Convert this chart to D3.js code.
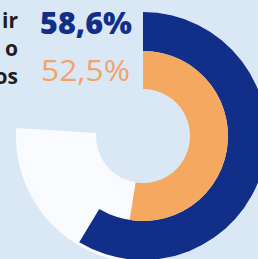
<!DOCTYPE html>
<html><head><meta charset="utf-8">
<script src="https://cdn.jsdelivr.net/npm/d3@7"></script>
<style>html,body{margin:0;padding:0;background:#dae8f6;overflow:hidden}</style>
</head><body>
<svg id="c" width="258" height="259"></svg>
<script>
const seriesNames = ["outer", "inner"];
const seriesValues = [58.6, 52.5];
const valueLabels = ["58,6%", "52,5%"];
const seriesColors = ["#112f88", "#f5a860"];
const sideText = ["ir", "o", "os"];
const trackEnd = 76;

const svg = d3.select("#c");
const cx = 143, cy = 136;
const angle = d3.scaleLinear().domain([0, 100]).range([0, 2 * Math.PI]);
const g = svg.append("g").attr("transform", `translate(${cx},${cy})`);

// white track
g.append("path")
  .attr("d", d3.arc().innerRadius(47).outerRadius(127)
    .startAngle(angle(seriesValues[1])).endAngle(angle(trackEnd)))
  .attr("fill", "#f9fbfe");

const radii = [[85, 124], [47, 85]];
seriesValues.forEach((v, i) => {
  g.append("path")
    .attr("d", d3.arc().innerRadius(radii[i][0]).outerRadius(radii[i][1])
      .startAngle(0).endAngle(angle(v)))
    .attr("fill", seriesColors[i]);
});

// value labels
svg.append("text").attr("x", 40).attr("y", 34)
  .attr("textLength", 92).attr("lengthAdjust", "spacingAndGlyphs")
  .attr("font-family", "Open Sans, sans-serif").attr("font-weight", 800)
  .attr("font-size", 30).attr("fill", seriesColors[0]).text(valueLabels[0]);
svg.append("text").attr("x", 41).attr("y", 81)
  .attr("textLength", 89).attr("lengthAdjust", "spacingAndGlyphs")
  .attr("font-family", "Open Sans, sans-serif").attr("font-weight", 400)
  .attr("font-size", 30).attr("fill", "#f3a468").text(valueLabels[1]);

// side text
sideText.forEach((t, i) => {
  svg.append("text").attr("x", 18).attr("y", 28 + i * 28).attr("text-anchor", "end")
    .attr("font-family", "Open Sans, sans-serif").attr("font-weight", 700)
    .attr("font-size", 21).attr("fill", "#1d1d22").text(t);
});
</script>
</body></html>
